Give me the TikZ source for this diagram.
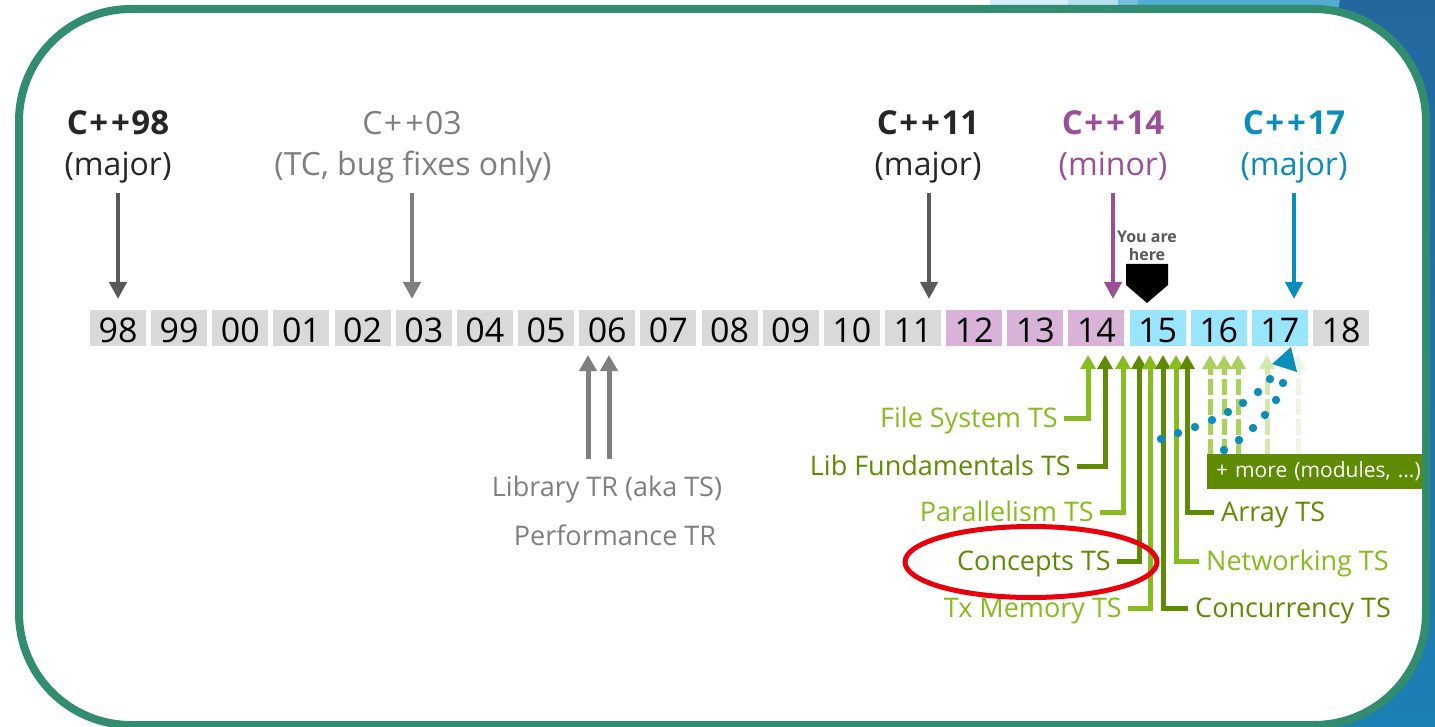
\documentclass[tikz,border=0pt]{standalone}
\usepackage{fontspec}
\setmainfont{Open Sans}
\usetikzlibrary{arrows.meta}
\definecolor{bord}{HTML}{318C70}
\definecolor{dk}{HTML}{262626}
\definecolor{arrdk}{HTML}{595959}
\definecolor{gr}{HTML}{7F7F7F}
\definecolor{purp}{HTML}{9A4F96}
\definecolor{cblue}{HTML}{0A8DBA}
\definecolor{boxg}{HTML}{D9D9D9}
\definecolor{boxp}{HTML}{D9B3D7}
\definecolor{boxb}{HTML}{9AE5FE}
\definecolor{lgreen}{HTML}{86BC1E}
\definecolor{dgreen}{HTML}{5E8B03}
\definecolor{fadeA}{HTML}{AAD15C}
\definecolor{fadeB}{HTML}{D3E8AC}
\definecolor{fadeC}{HTML}{ECF5DF}
\definecolor{redc}{HTML}{E8000C}
\definecolor{bgA}{HTML}{D4EEF9}
\definecolor{bgB}{HTML}{B8E0F0}
\definecolor{bgC}{HTML}{78BEDD}
\definecolor{bgD}{HTML}{52ACD4}
\definecolor{bgE}{HTML}{23689D}
\definecolor{bgF}{HTML}{1B80B4}
\newcommand\plussp{\kern1.5pt+\kern1.5pt}
\begin{document}
\begin{tikzpicture}[x=1pt,y=-1pt,
  ver/.style={font=\fontsize{33}{36}\selectfont\bfseries, anchor=base, inner sep=0pt},
  sub/.style={font=\fontsize{32}{36}\selectfont, anchor=base, inner sep=0pt},
  yrbox/.style={minimum width=56pt, minimum height=36pt, inner sep=0pt, text height=29pt, text depth=0pt, font=\fontsize{34}{36}\selectfont, text=black},
  toparrow/.style={line width=4.5pt, -{Triangle[width=17pt,length=17pt]}},
  garrow/.style={line width=5pt, -{Triangle[width=15pt,length=14pt]}},
  fadearrow/.style={line width=5pt, dash pattern=on 16pt off 4pt, -{Triangle[width=15pt,length=14pt]}},
  llbl/.style={font=\fontsize{27}{30}\selectfont, anchor=east, inner ysep=0pt, inner xsep=6pt, text height=19.3pt, text depth=0pt},
  rlbl/.style={font=\fontsize{27}{30}\selectfont, anchor=west, inner ysep=0pt, inner xsep=7pt, text height=19.3pt, text depth=0pt},
  glbl/.style={font=\fontsize{27}{30}\selectfont, anchor=base, inner sep=0pt, text=gr},
  herelbl/.style={font=\fontsize{16}{18}\selectfont\bfseries, anchor=base, inner sep=0pt, text=arrdk}
]
\useasboundingbox (0,0) rectangle (1435,727);
% background outside the panel
\fill[white] (0,0) rectangle (1435,727);
\fill[bgA] (990,0) rectangle (1068,40);
\fill[bgB] (1068,0) rectangle (1118,40);
\fill[bgC] (1118,0) rectangle (1138,40);
\fill[bgD] (1138,0) rectangle (1345,40);
\shade[top color=bgE, bottom color=bgF] (1340,0) -- (1435,0) -- (1435,727) -- (1200,727) -- cycle;
% panel
\fill[white, rounded corners=112pt] (19,9) rectangle (1426,725);

% version labels
\node[ver, text=dk] (v98) at (118,135) {C\plussp\plussp 98};
\node[sub, text=dk] (s98) at (118,176) {(major)};
\node[sub, text=gr] (v03) at (412,135) {C\plussp\plussp 03};
\node[sub, text=gr] (s03) at (413,176) {(TC, bug fixes only)};
\node[ver, text=dk] (v11) at (928,135) {C\plussp\plussp 11};
\node[sub, text=dk] (s11) at (928,176) {(major)};
\node[ver, text=purp] (v14) at (1113,135) {C\plussp\plussp 14};
\node[sub, text=purp] (s14) at (1113,176) {(minor)};
\node[ver, text=cblue] (v17) at (1294,135) {C\plussp\plussp 17};
\node[sub, text=cblue] (s17) at (1294,176) {(major)};

% arrow ends
\coordinate (a98s) at (118,193);  \coordinate (a98e) at (118,299);
\coordinate (a03s) at (412,193);  \coordinate (a03e) at (412,299);
\coordinate (a11s) at (929,193);  \coordinate (a11e) at (929,299);
\coordinate (a14s) at (1113,193); \coordinate (a14e) at (1113,299);
\coordinate (a17s) at (1294,193); \coordinate (a17e) at (1294,299);
\draw[toparrow, arrdk] (a98s) -- (a98e);
\draw[toparrow, gr] (a03s) -- (a03e);
\draw[toparrow, arrdk] (a11s) -- (a11e);
\draw[toparrow, purp] (a14s) -- (a14e);
\draw[toparrow, cblue] (a17s) -- (a17e);

% year boxes
\foreach \lab/\i in {98/0,99/1,00/2,01/3,02/4,03/5,04/6,05/7,06/8,07/9,08/10,09/11,10/12,11/13,18/20}
  \node[yrbox, fill=boxg] (y\lab) at (118+61.15*\i,328) {\lab};
\foreach \lab/\i in {12/14,13/15,14/16}
  \node[yrbox, fill=boxp] (y\lab) at (118+61.15*\i,328) {\lab};
\foreach \lab/\i in {15/17,16/18,17/19}
  \node[yrbox, fill=boxb] (y\lab) at (118+61.15*\i,328) {\lab};

% you are here
\node[herelbl] (here1) at (1147,243) {You are};
\node[herelbl] (here2) at (1147,261) {here};
\fill[black] (1126,264) -- (1168,264) -- (1168,285) -- (1147,303) -- (1126,285) -- cycle;

% library TR
\node[glbl] (lib) at (607,496) {Library TR (aka TS)};
\node[glbl] (perf) at (615,545) {Performance TR};
\coordinate (l1s) at (588,459); \coordinate (l1e) at (588,355);
\coordinate (l2s) at (609,459); \coordinate (l2e) at (609,355);
\draw[garrow, gr, -{Triangle[width=17pt,length=16pt]}] (l1s) -- (l1e);
\draw[garrow, gr, -{Triangle[width=17pt,length=16pt]}] (l2s) -- (l2e);

% faded future arrows
\foreach \x in {1210,1224,1238}
  \draw[fadearrow, fadeA] (\x,455) -- (\x,355);
\draw[fadearrow, fadeB] (1267,455) -- (1267,355);
\draw[fadearrow, fadeC] (1298,455) -- (1298,355);

% TS labels
\node[llbl, text=lgreen] (fs)  at (1064,418) {File System TS};
\node[llbl, text=dgreen] (lf)  at (1077,466) {Lib Fundamentals TS};
\node[llbl, text=lgreen] (par) at (1100,512) {Parallelism TS};
\node[llbl, text=dgreen] (con) at (1117,561) {Concepts TS};
\node[llbl, text=lgreen] (tx)  at (1128,608) {Tx Memory TS};
\node[rlbl, text=dgreen] (arr) at (1214,512) {Array TS};
\node[rlbl, text=lgreen] (net) at (1199,561) {Networking TS};
\node[rlbl, text=dgreen] (cc)  at (1188,608) {Concurrency TS};

\coordinate (tfs) at (1088,355);
\coordinate (tlf) at (1105,355);
\coordinate (tpar) at (1123,355);
\coordinate (tcon) at (1139,355);
\coordinate (ttx) at (1150,355);
\coordinate (tcc) at (1163,355);
\coordinate (tnet) at (1176,355);
\coordinate (tarr) at (1187,355);

\draw[garrow, lgreen] (fs.east) -| (tfs);
\draw[garrow, dgreen] (lf.east) -| (tlf);
\draw[garrow, lgreen] (par.east) -| (tpar);
\draw[garrow, dgreen] (con.east) -| (tcon);
\draw[garrow, lgreen] (tx.east) -| (ttx);
\draw[garrow, dgreen] (cc.west) -| (tcc);
\draw[garrow, lgreen] (net.west) -| (tnet);
\draw[garrow, dgreen] (arr.west) -| (tarr);

% more box
\node[fill=dgreen, text=white, anchor=west, minimum height=35pt, inner xsep=9pt, inner ysep=0pt, text width=200pt, align=left, font=\fontsize{21}{24}\selectfont] (more) at (1207,471) {\mbox{+ more (modules, ...)}};

% blue dotted arrow
\foreach \p in {(1161,439),(1178,433),(1195,427),(1212,420),(1228,412),(1243,403),(1258,392),(1270,379),
                (1224,450),(1239,440),(1253,428),(1265,415),(1276,400),(1283,383)}
  \fill[cblue] \p circle (4.2);
\fill[cblue] (1291,347) -- (1272,364) -- (1297,372) -- cycle;

% highlight
\draw[redc, line width=5pt] (1031,562) ellipse [x radius=126, y radius=35.5];

% panel border
\draw[bord, line width=8pt, rounded corners=112pt] (19,9) rectangle (1426,725);
\end{tikzpicture}
\end{document}
